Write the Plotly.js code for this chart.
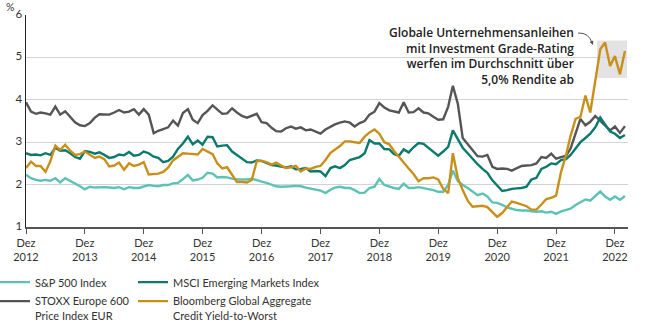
<!DOCTYPE html>
<html>
<head>
<meta charset="utf-8">
<script src="https://cdn.plot.ly/plotly-3.0.1.min.js"></script>
<style>html,body{margin:0;padding:0;background:#fff;}#chart{width:650px;height:325px;}</style>
</head>
<body>
<div id="chart"></div>
<script>
// Monthly observations, first month = Dez 2012
const startYear = 2012, startMonth = 12;

const sp500 = [
  2.23, 2.15, 2.11, 2.09, 2.11, 2.09, 2.15, 2.05, 2.15, 2.09, 2.03, 1.96,
  1.89, 1.95, 1.93, 1.94, 1.94, 1.93, 1.92, 1.94, 1.89, 1.94, 1.92, 1.92,
  1.96, 1.99, 1.97, 1.96, 1.99, 1.99, 2.03, 2.04, 2.13, 2.23, 2.10, 2.12,
  2.16, 2.28, 2.26, 2.17, 2.18, 2.17, 2.14, 2.12, 2.12, 2.12, 2.14, 2.10,
  2.07, 2.04, 2.00, 1.96, 1.95, 1.95, 1.96, 1.97, 1.96, 1.93, 1.91, 1.89,
  1.86, 1.80, 1.88, 1.93, 1.95, 1.92, 1.92, 1.87, 1.80, 1.81, 1.92, 1.95,
  2.13, 1.99, 1.95, 1.92, 1.90, 2.02, 1.92, 1.92, 1.94, 1.92, 1.90, 1.87,
  1.83, 1.83, 2.00, 2.33, 2.08, 1.99, 1.92, 1.84, 1.75, 1.79, 1.72, 1.58,
  1.57, 1.52, 1.46, 1.43, 1.40, 1.39, 1.39, 1.37, 1.36, 1.37, 1.34, 1.36,
  1.31, 1.37, 1.40, 1.43, 1.52, 1.59, 1.65, 1.62, 1.72, 1.84, 1.72, 1.64,
  1.72, 1.64, 1.73
];

const msciEM = [
  2.74, 2.70, 2.71, 2.69, 2.74, 2.70, 2.87, 2.80, 2.81, 2.74, 2.65, 2.61,
  2.79, 2.77, 2.73, 2.76, 2.70, 2.63, 2.65, 2.71, 2.69, 2.77, 2.68, 2.70,
  2.78, 2.74, 2.66, 2.63, 2.53, 2.56, 2.66, 2.84, 2.97, 3.13, 2.95, 3.04,
  2.94, 3.13, 3.12, 2.90, 2.92, 2.93, 2.78, 2.70, 2.62, 2.53, 2.52, 2.57,
  2.56, 2.50, 2.46, 2.45, 2.43, 2.40, 2.43, 2.36, 2.37, 2.39, 2.31, 2.32,
  2.31, 2.20, 2.39, 2.43, 2.39, 2.46, 2.58, 2.61, 2.65, 2.74, 3.05, 2.97,
  2.97, 2.84, 2.83, 2.72, 2.68, 2.83, 2.76, 2.88, 2.98, 2.96, 2.87, 2.78,
  2.68, 2.78, 2.89, 3.28, 3.07, 2.87, 2.74, 2.60, 2.48, 2.37, 2.28, 2.10,
  1.97, 1.85, 1.87, 1.90, 1.91, 1.92, 1.95, 2.12, 2.16, 2.37, 2.42, 2.50,
  2.48, 2.58, 2.60, 2.70, 2.85, 3.00, 3.10, 3.20, 3.35, 3.58, 3.42, 3.25,
  3.20, 3.10, 3.17
];

const stoxx600 = [
  3.94, 3.72, 3.67, 3.70, 3.68, 3.65, 3.84, 3.65, 3.73, 3.60, 3.47, 3.40,
  3.38, 3.45, 3.58, 3.66, 3.66, 3.65, 3.70, 3.76, 3.70, 3.72, 3.78, 3.65,
  3.78, 3.65, 3.21, 3.27, 3.31, 3.35, 3.51, 3.39, 3.69, 3.78, 3.53, 3.45,
  3.64, 3.74, 3.87, 3.77, 3.67, 3.68, 3.80, 3.70, 3.62, 3.58, 3.62, 3.67,
  3.47, 3.45, 3.34, 3.26, 3.25, 3.33, 3.37, 3.32, 3.35, 3.28, 3.30, 3.24,
  3.20, 3.30, 3.36, 3.42, 3.46, 3.49, 3.46, 3.37, 3.45, 3.50, 3.65, 3.72,
  3.92, 3.82, 3.75, 3.72, 3.70, 3.94, 3.70, 3.71, 3.80, 3.70, 3.68, 3.60,
  3.53, 3.54, 3.84, 4.33, 3.90, 3.10, 2.95, 2.80, 2.67, 2.66, 2.70, 2.42,
  2.37, 2.38, 2.37, 2.33, 2.38, 2.44, 2.45, 2.46, 2.50, 2.65, 2.63, 2.73,
  2.61, 2.65, 2.68, 2.85, 3.20, 3.55, 3.40, 3.48, 3.62, 3.50, 3.38, 3.28,
  3.37, 3.22, 3.38
];

const bloombergCredit = [
  2.39, 2.54, 2.44, 2.44, 2.30, 2.55, 2.92, 2.82, 2.94, 2.80, 2.70, 2.72,
  2.78, 2.71, 2.63, 2.66, 2.60, 2.43, 2.45, 2.52, 2.35, 2.50, 2.44, 2.47,
  2.53, 2.24, 2.26, 2.26, 2.30, 2.40, 2.57, 2.66, 2.74, 2.73, 2.72, 2.71,
  2.84, 2.78, 2.72, 2.50, 2.38, 2.41, 2.22, 2.06, 2.06, 2.05, 2.11, 2.55,
  2.56, 2.53, 2.47, 2.52, 2.45, 2.39, 2.41, 2.44, 2.31, 2.38, 2.37, 2.42,
  2.44, 2.58, 2.75, 2.82, 2.91, 3.02, 3.02, 3.00, 2.98, 3.13, 3.23, 3.30,
  3.20, 3.00, 2.95, 2.80, 2.65, 2.51, 2.38, 2.25, 2.08, 2.15, 2.15, 2.17,
  2.12, 1.90, 1.80, 2.74, 2.15, 1.87, 1.62, 1.48, 1.49, 1.50, 1.47, 1.34,
  1.24, 1.33, 1.47, 1.60, 1.57, 1.53, 1.49, 1.41, 1.41, 1.53, 1.66, 1.69,
  1.74, 2.30, 2.70, 3.15, 3.55, 3.60, 4.10, 3.70, 4.45, 5.19, 5.35, 4.80,
  5.03, 4.60, 5.15
];

const seriesNames = [
  "S&P 500 Index",
  "STOXX Europe 600<br>Price Index EUR",
  "MSCI Emerging Markets Index",
  "Bloomberg Global Aggregate<br>Credit Yield-to-Worst"
];
const tickYears = [2012, 2013, 2014, 2015, 2016, 2017, 2018, 2019, 2020, 2021, 2022];
const tickMonthLabel = "Dez";
const yTicks = [1, 2, 3, 4, 5, 6];
const noteLines = [
  "Globale Unternehmensanleihen",
  "mit Investment Grade-Rating",
  "werfen im Durchschnitt über",
  "5,0% Rendite ab"
];

function monthDates(n) {
  const out = [];
  for (let i = 0; i < n; i++) {
    const t = (startMonth - 1) + i;
    const y = startYear + Math.floor(t / 12);
    const m = (t % 12) + 1;
    out.push(y + "-" + String(m).padStart(2, "0") + "-01");
  }
  return out;
}
const dates = monthDates(sp500.length);

const colors = ["#5cc3b4", "#555555", "#0a7a6d", "#c8901a"];
const valuesList = [sp500, stoxx600, msciEM, bloombergCredit];
const legendIds = ["legend", "legend", "legend2", "legend2"];

const FONT = "Lato, 'Open Sans', sans-serif";
const NOTE_FONT = "'Open Sans', Lato, sans-serif";

const traces = valuesList.map((vals, i) => ({
  type: "scatter",
  mode: "lines",
  x: dates,
  y: vals,
  name: seriesNames[i],
  legend: legendIds[i],
  line: {color: colors[i], width: 2.4},
  hoverinfo: "skip"
}));

// plot area in pixels: x 26..628, y 15..227
const px = v => (v - 26) / 602;
const py = v => (227 - v) / 212;

const annotations = [
  {text: "%", xref: "paper", yref: "paper", x: px(10), y: py(0.5), xanchor: "center", yanchor: "top",
   showarrow: false, borderpad: 0, font: {family: FONT, size: 10.5, color: "#333"}},
  {text: noteLines.join("<br>"), xref: "paper", yref: "paper",
   x: px(576), y: py(56), xanchor: "right", yanchor: "middle", align: "right", showarrow: false,
   font: {family: NOTE_FONT, size: 12, color: "#222", weight: 600}},
  {text: "", xref: "paper", yref: "paper",
   x: px(593), y: py(45), ax: -2, ay: -5, showarrow: true, arrowhead: 2, arrowsize: 0.8,
   arrowwidth: 1, arrowcolor: "#555"}
];

const shapes = [
  {type: "rect", xref: "paper", yref: "paper", x0: px(597), x1: px(627), y0: py(78), y1: py(40.5),
   fillcolor: "#e3e3e3", line: {width: 0}, layer: "below"},
  {type: "path", xref: "paper", yref: "paper",
   path: "M " + px(578) + "," + py(33) + " Q " + px(589) + "," + py(32.5) + " " + px(592) + "," + py(43),
   line: {color: "#555", width: 1}}
];

const layout = {
  width: 650, height: 325,
  margin: {l: 26, r: 22, t: 15, b: 98, autoexpand: false},
  paper_bgcolor: "#fff", plot_bgcolor: "#fff",
  font: {family: FONT, size: 11, color: "#333"},
  showlegend: true,
  xaxis: {
    type: "date",
    range: ["2012-12-01", "2023-02-20"],
    tickvals: tickYears.map(y => y + "-12-01"),
    ticktext: tickYears.map(y => tickMonthLabel + "<br>" + y),
    showgrid: false, zeroline: false,
    showline: true, linecolor: "#555", linewidth: 1.5,
    ticks: "outside", ticklen: 5, tickcolor: "#555", tickwidth: 1,
    tickfont: {family: FONT, size: 11, color: "#333"}
  },
  yaxis: {
    range: [1, 6],
    tickvals: yTicks,
    showgrid: true, gridcolor: "#d3d3d3", gridwidth: 1,
    zeroline: false,
    showline: true, linecolor: "#222", linewidth: 1.5,
    ticks: "", ticklabelshift: -1,
    tickfont: {family: FONT, size: 11.5, color: "#333"}
  },
  legend: {
    orientation: "v", xref: "paper", yref: "paper",
    x: px(-5), y: py(268.5), xanchor: "left", yanchor: "top",
    font: {family: FONT, size: 11, color: "#333"},
    bgcolor: "rgba(0,0,0,0)", valign: "top", tracegroupgap: 0
  },
  legend2: {
    orientation: "v", xref: "paper", yref: "paper",
    x: px(133), y: py(268.5), xanchor: "left", yanchor: "top",
    font: {family: FONT, size: 11, color: "#333"},
    bgcolor: "rgba(0,0,0,0)", valign: "top", tracegroupgap: 0
  },
  annotations: annotations,
  shapes: shapes
};

Plotly.newPlot("chart", traces, layout, {displayModeBar: false, staticPlot: true});
</script>
</body>
</html>
